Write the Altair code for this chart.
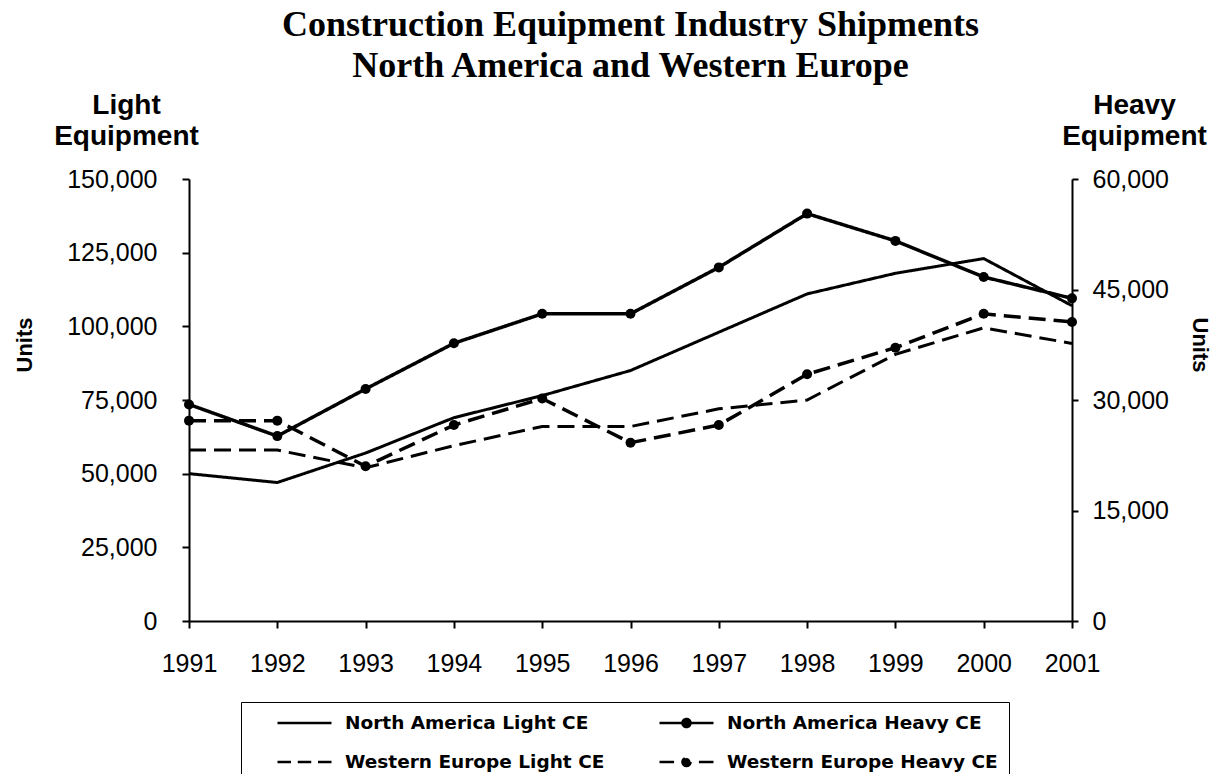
import altair as alt
import pandas as pd

years = [1991, 1992, 1993, 1994, 1995, 1996, 1997, 1998, 1999, 2000, 2001]
na_light = [50000, 47000, 57000, 69000, 76500, 85000, 98000, 111000, 118000, 123000, 107000]
we_light = [58000, 58000, 52000, 59500, 66000, 66000, 72000, 75000, 90500, 99500, 94200]
na_heavy = [29400, 25100, 31500, 37700, 41700, 41700, 48000, 55300, 51600, 46700, 43800]
we_heavy = [27200, 27200, 21000, 26600, 30200, 24200, 26600, 33500, 37100, 41700, 40600]

# legend is laid out column by column: col 1 = NA/WE light, col 2 = NA/WE heavy
series_order = ["North America Light CE", "Western Europe Light CE",
                "North America Heavy CE", "Western Europe Heavy CE"]
light_names = ["North America Light CE", "Western Europe Light CE"]
heavy_names = ["North America Heavy CE", "Western Europe Heavy CE"]
left_ticks = [0, 25000, 50000, 75000, 100000, 125000, 150000]
right_ticks = [0, 15000, 30000, 45000, 60000]
dash_range = [[1, 0], [17, 8], [1, 0], [17, 8]]

rows = []
for name, vals in zip(["North America Light CE", "North America Heavy CE",
                       "Western Europe Light CE", "Western Europe Heavy CE"],
                      [na_light, na_heavy, we_light, we_heavy]):
    for yr, v in zip(years, vals):
        rows.append({"year": yr, "value": v, "series": name})
df = pd.DataFrame(rows)

FONT = "Liberation Sans"
circle = "M0.15,0A0.15,0.15,0,1,1,-0.15,0A0.15,0.15,0,1,1,0.15,0Z"
solid_dot = "M-1,0L1,0" + circle
dash_dot = "M-1,0L-0.46,0M0.46,0L1,0" + circle
three_dash = "M-1,0L-0.5,0M-0.25,0L0.25,0M0.5,0L1,0"
shape_expr = (
    "indexof(datum.value, 'Western') >= 0 ? "
    "(indexof(datum.value, 'Heavy') >= 0 ? '" + dash_dot + "' : '" + three_dash + "') : "
    "(indexof(datum.value, 'Heavy') >= 0 ? '" + solid_dot + "' : 'stroke')"
)

legend = alt.Legend(
    title=None, orient="none", legendX=52, legendY=523, columns=2,
    symbolType=alt.ExprRef(expr=shape_expr), symbolSize=2916, symbolStrokeWidth=2.5,
    symbolStrokeColor="black", symbolFillColor="black",
    labelFont="DejaVu Sans", labelFontSize=18.5, labelFontWeight="bold", labelColor="black",
    labelLimit=0, labelOffset=12, symbolOffset=24, clipHeight=20,
    columnPadding=29, rowPadding=19, padding=11,
    strokeColor="black", fillColor="white",
)

x_enc = alt.X("year:Q",
              scale=alt.Scale(domain=[1991, 2001], nice=False, zero=False),
              axis=alt.Axis(values=years, format="d", title=None, grid=False,
                            labelFlush=False, labelFontSize=25, labelPadding=23,
                            tickSize=7))
dash_enc = alt.StrokeDash("series:N",
                          scale=alt.Scale(domain=series_order, range=dash_range),
                          legend=legend)

base = alt.Chart(df)

light = base.transform_filter(
    alt.FieldOneOfPredicate(field="series", oneOf=light_names)
).mark_line(color="black", strokeWidth=3).encode(
    x=x_enc,
    y=alt.Y("value:Q", scale=alt.Scale(domain=[0, 150000], nice=False),
            axis=alt.Axis(orient="left", values=left_ticks, format=",.0f", grid=False,
                          title=["Light", "Equipment"], titleAngle=0, titleAlign="center",
                          titleBaseline="alphabetic", titleX=-63, titleY=-66,
                          titleLineHeight=31, labelFontSize=25, labelPadding=25,
                          tickSize=7)),
    strokeDash=dash_enc,
)

heavy_y = alt.Y("value:Q", scale=alt.Scale(domain=[0, 60000], nice=False),
                axis=alt.Axis(orient="right", values=right_ticks, format=",.0f", grid=False,
                              title=["Heavy", "Equipment"], titleAngle=0, titleAlign="center",
                              titleBaseline="alphabetic", titleX=62, titleY=-66,
                              titleLineHeight=31, labelFontSize=25, labelPadding=14,
                              tickSize=6))
heavy_base = base.transform_filter(
    alt.FieldOneOfPredicate(field="series", oneOf=heavy_names)
).encode(x=x_enc, y=heavy_y)
heavy_line = heavy_base.mark_line(color="black", strokeWidth=3.5).encode(strokeDash=dash_enc)
heavy_pts = heavy_base.mark_point(filled=True, color="black", size=100, opacity=1)
heavy = alt.layer(heavy_line, heavy_pts)

one = alt.Data(values=[{}])
units_left = alt.Chart(one).mark_text(
    text="Units", angle=270, font=FONT, fontSize=22, fontWeight="bold",
    align="center", baseline="middle", color="black"
).encode(x=alt.value(-164), y=alt.value(166))
units_right = alt.Chart(one).mark_text(
    text="Units", angle=90, font=FONT, fontSize=22, fontWeight="bold",
    align="center", baseline="middle", color="black"
).encode(x=alt.value(1011), y=alt.value(166))

chart = alt.layer(light, heavy, units_left, units_right).resolve_scale(
    y="independent"
).properties(
    width=883, height=442,
    autosize=alt.AutoSizeParams(type="none"),
    padding={"left": 181, "top": 171, "right": 140, "bottom": 153},
    title=alt.TitleParams(
        text=["Construction Equipment Industry Shipments", "North America and Western Europe"],
        font="Liberation Serif", fontSize=36, fontWeight="bold", color="black",
        anchor="middle", frame="group", lineHeight=41, offset=6),
).configure_view(stroke=None).configure_axis(
    domainColor="black", domainWidth=2, tickColor="black", tickWidth=2,
    labelColor="black", labelFont=FONT, titleFont=FONT, titleFontSize=28,
    titleFontWeight="bold", titleColor="black",
)

chart.save("out.html", embed_options={"renderer": "svg", "actions": False})
